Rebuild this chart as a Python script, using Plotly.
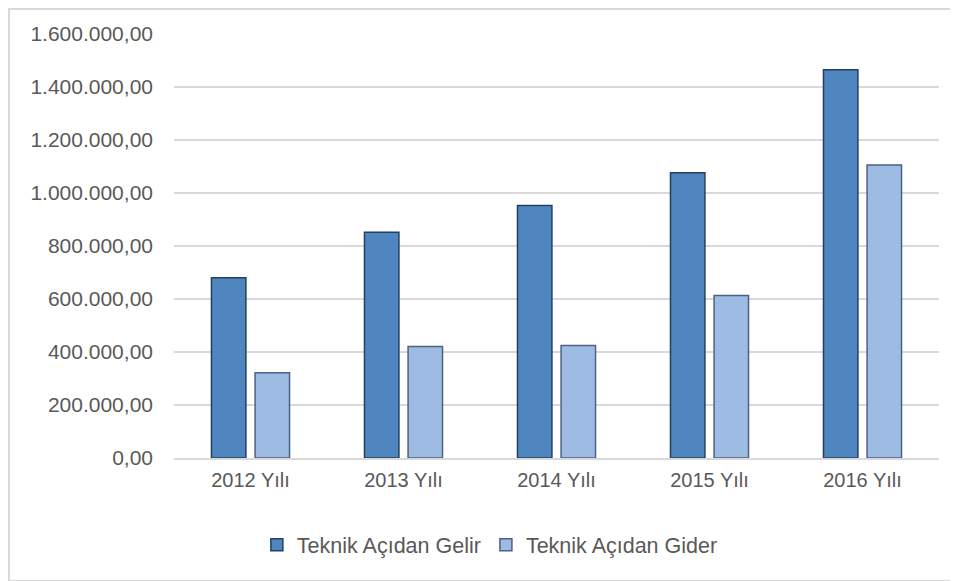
import plotly.graph_objects as go

# %%
years = ["2012 Yılı", "2013 Yılı", "2014 Yılı", "2015 Yılı", "2016 Yılı"]
gelir = [680000, 852000, 953000, 1076000, 1465000]
gider = [321500, 421000, 424500, 613000, 1106000]

y_ticks = [0, 200000, 400000, 600000, 800000, 1000000, 1200000, 1400000, 1600000]
y_labels = ["0,00", "200.000,00", "400.000,00", "600.000,00", "800.000,00",
            "1.000.000,00", "1.200.000,00", "1.400.000,00", "1.600.000,00"]

# %%
fig = go.Figure()
fig.add_trace(go.Bar(
    x=years, y=gelir, name="Teknik Açıdan Gelir",
    marker=dict(color="#4F86C0", line=dict(color="#24405F", width=1.5)),
))
fig.add_trace(go.Bar(
    x=years, y=gider, name="Teknik Açıdan Gider",
    marker=dict(color="#9DBBE3", line=dict(color="#4C6285", width=1.5)),
))

# page has an 8px body margin, so the figure origin sits at (8, 8)
fig.update_layout(
    width=958,
    height=581,
    margin=dict(l=166, r=27, t=26, b=131, autoexpand=False),
    paper_bgcolor="white",
    plot_bgcolor="white",
    barmode="group",
    bargap=0.43,
    bargroupgap=0.21,
    font=dict(family="Liberation Sans", color="#595959", size=20),
    showlegend=True,
    legend=dict(
        orientation="h",
        xref="container", yref="container",
        x=0.503, y=0.076, xanchor="center", yanchor="middle",
        font=dict(family="Liberation Sans", size=21.5, color="#595959"),
        itemwidth=30,
        traceorder="normal",
    ),
    xaxis=dict(
        automargin=False,
        showgrid=False,
        showline=True, linecolor="#D9D9D9", linewidth=2,
        ticks="",
        tickfont=dict(family="Liberation Sans", size=20, color="#595959"),
        ticklabelstandoff=3,
    ),
    yaxis=dict(
        automargin=False,
        range=[0, 1600000],
        tickvals=y_ticks,
        ticktext=y_labels,
        showgrid=True, gridcolor="#D9D9D9", gridwidth=2,
        zeroline=False,
        showline=False,
        ticks="",
        ticklabelstandoff=20,
        tickfont=dict(family="Liberation Sans", size=21, color="#595959"),
    ),
)

# outer chart frame
fig.add_shape(
    type="rect", xref="paper", yref="paper",
    x0=-165 / 765, x1=1.05, y0=-123 / 424, y1=1 + 25 / 424,
    line=dict(color="#D9D9D9", width=2),
    layer="below",
)

fig.write_html("out.html")
